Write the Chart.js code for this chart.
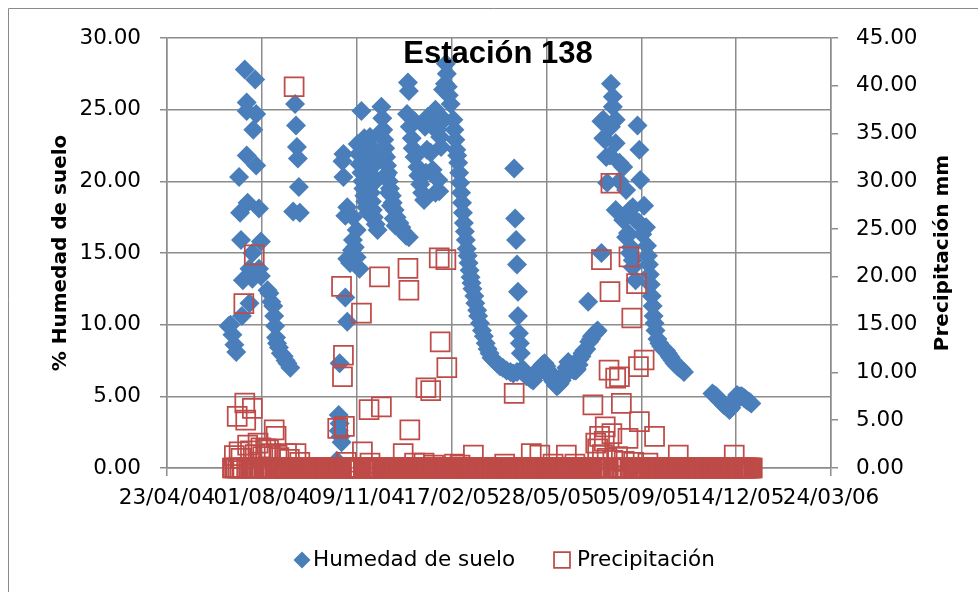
<!DOCTYPE html>
<html>
<head>
<meta charset="utf-8">
<script src="https://cdn.jsdelivr.net/npm/chart.js@4.4.1/dist/chart.umd.min.js"></script>
<style>
  html, body { margin: 0; padding: 0; background: #ffffff; }
  #wrap { width: 978px; height: 592px; }
</style>
</head>
<body>
<div id="wrap"><canvas id="chart" width="978" height="592"></canvas></div>
<script>
// ---- Soil moisture (% Humedad de suelo), left axis ----
const humidityDates = [
  '2004-06-27','2004-06-29','2004-07-01','2004-07-03','2004-07-05','2004-07-08','2004-07-09','2004-07-10','2004-07-11','2004-07-12',
  '2004-07-14','2004-07-16','2004-07-16','2004-07-16','2004-07-17','2004-07-19','2004-07-19','2004-07-22','2004-07-22','2004-07-23',
  '2004-07-25','2004-07-26','2004-07-26','2004-07-29','2004-07-29','2004-07-31','2004-07-31','2004-08-07','2004-08-09','2004-08-11',
  '2004-08-13','2004-08-14','2004-08-15','2004-08-16','2004-08-17','2004-08-19','2004-08-21','2004-08-24','2004-08-26','2004-08-28',
  '2004-08-31','2004-09-03','2004-09-05','2004-09-06','2004-09-07','2004-09-08','2004-09-09','2004-09-10',
  '2004-10-19','2004-10-21','2004-10-21','2004-10-22','2004-10-22','2004-10-23','2004-10-24','2004-10-25','2004-10-26','2004-10-26',
  '2004-10-28','2004-10-28','2004-10-30','2004-10-30','2004-10-30','2004-11-02','2004-11-04','2004-11-05','2004-11-05','2004-11-07',
  '2004-11-09','2004-11-09','2004-11-12','2004-11-14','2004-11-10','2004-11-11','2004-11-12','2004-11-14','2004-11-15','2004-11-16',
  '2004-11-17','2004-11-18','2004-11-19','2004-11-21','2004-11-17','2004-11-19','2004-11-20','2004-11-21','2004-11-22','2004-11-23',
  '2004-11-24','2004-11-25','2004-11-26','2004-11-27','2004-11-29','2004-12-01','2004-11-23','2004-12-05','2004-12-06','2004-12-07',
  '2004-12-08','2004-12-09','2004-12-10','2004-12-11','2004-12-12','2004-12-13','2004-12-14','2004-12-16','2004-12-17','2004-12-19',
  '2004-12-21','2004-12-24','2004-12-26','2004-12-28','2004-12-31','2005-01-03','2005-01-02','2005-01-03','2005-01-01','2005-01-04',
  '2004-12-04','2004-12-07','2004-12-10','2004-12-13','2004-12-15','2004-12-18','2004-12-20','2004-11-26','2004-11-28','2004-11-30',
  '2005-01-06','2005-01-07','2005-01-09','2005-01-09','2005-01-12','2005-01-13','2005-01-15','2005-01-17','2005-01-19','2005-01-20',
  '2005-01-21','2005-01-22','2005-01-23','2005-01-25','2005-01-26','2005-01-28','2005-01-28','2005-01-31','2005-01-31','2005-02-02',
  '2005-02-03','2005-02-04','2005-02-05','2005-02-06','2005-02-08','2005-02-09','2005-02-10','2005-02-11','2005-02-12','2005-02-13',
  '2005-02-14','2005-02-16','2005-02-19','2005-02-20','2005-02-21','2005-02-22','2005-02-23','2005-02-24','2005-02-25','2005-02-26',
  '2005-02-27','2005-02-28','2005-03-01','2005-03-02','2005-03-03','2005-03-04','2005-03-05','2005-03-06','2005-03-07','2005-03-08',
  '2005-03-09','2005-03-10','2005-03-11','2005-03-13','2005-03-14','2005-03-16','2005-03-17','2005-03-19','2005-03-21','2005-03-23',
  '2005-03-25','2005-03-27','2005-03-29','2005-03-31','2005-04-03','2005-04-06','2005-04-09','2005-04-12','2005-04-16','2005-04-20',
  '2005-04-23','2005-04-24','2005-04-25','2005-04-26','2005-04-27','2005-04-28','2005-04-28','2005-04-29','2005-04-30','2005-05-01',
  '2005-04-27','2005-05-01','2005-05-03','2005-05-05','2005-05-07','2005-05-10','2005-05-12','2005-05-14','2005-05-16','2005-05-18',
  '2005-05-20','2005-05-22','2005-05-24','2005-05-26','2005-05-28','2005-05-30','2005-06-01','2005-06-02','2005-06-04','2005-06-05',
  '2005-06-07','2005-06-08','2005-06-10','2005-06-11','2005-06-13','2005-06-14','2005-06-16','2005-06-18','2005-06-20','2005-06-22',
  '2005-06-23','2005-06-25','2005-06-26','2005-06-28','2005-06-29','2005-07-01','2005-07-02','2005-07-04','2005-07-05','2005-07-07',
  '2005-07-09','2005-07-11','2005-07-12','2005-07-14','2005-07-15','2005-07-17','2005-07-18','2005-07-20','2005-07-21','2005-07-25',
  '2005-07-25','2005-07-27','2005-07-27','2005-07-29','2005-07-30','2005-07-31','2005-08-03','2005-08-04','2005-08-04','2005-08-06',
  '2005-08-06','2005-08-09','2005-08-09','2005-08-09','2005-08-13','2005-08-13','2005-08-17','2005-08-17','2005-08-20','2005-08-20',
  '2005-08-22','2005-08-24','2005-08-24','2005-08-25','2005-08-27','2005-08-27','2005-08-27','2005-08-30','2005-08-30','2005-09-03',
  '2005-09-06','2005-09-01','2005-09-03','2005-09-04','2005-09-08','2005-09-10','2005-09-11','2005-09-12','2005-09-13','2005-09-14',
  '2005-09-15','2005-09-16','2005-09-17','2005-09-18','2005-09-19','2005-09-20','2005-09-22','2005-09-24','2005-09-26','2005-09-28',
  '2005-10-01','2005-10-03','2005-10-05','2005-10-06','2005-10-08','2005-10-10','2005-10-12','2005-10-13','2005-10-15','2005-10-17',
  '2005-10-20',
  '2005-11-19','2005-11-21','2005-11-23','2005-11-25','2005-11-27','2005-11-29','2005-12-01','2005-12-03','2005-12-05','2005-12-07',
  '2005-12-09','2005-12-11','2005-12-13','2005-12-15','2005-12-18','2005-12-20','2005-12-22','2005-12-24','2005-12-26','2005-12-28','2005-12-30'
];
const humidityValues = [
  9.9, 10.0, 9.3, 8.6, 8.1, 20.3, 17.8, 15.9, 10.6, 13.1,
  27.8, 25.5, 24.9, 21.8, 18.5, 13.9, 11.5, 15.0, 13.2, 23.6,
  27.1, 24.7, 21.1, 18.1, 13.9, 15.8, 13.4, 12.4, 12.2, 11.6,
  11.3, 10.6, 9.9, 9.1, 8.7, 8.4, 8.0, 7.8, 7.5, 7.3,
  7.0, 17.9, 25.4, 23.9, 22.4, 21.6, 19.6, 17.8,
  0.5, 3.7, 2.6, 3.1, 7.3, 2.2, 1.8, 21.4, 21.9, 20.3,
  11.9, 17.6, 18.2, 10.2, 14.6, 14.3, 15.2, 17.5, 15.9, 15.4,
  16.6, 14.7, 13.9, 24.9, 22.6, 21.9, 21.2, 20.6, 20.0, 19.5,
  19.0, 18.6, 18.2, 17.8, 23.0, 22.4, 21.7, 21.0, 20.4, 19.8,
  19.2, 18.6, 18.0, 17.5, 17.0, 16.6, 23.1, 25.2, 24.4, 23.6,
  22.9, 22.3, 21.7, 21.1, 20.6, 20.0, 19.5, 19.0, 18.5, 18.0,
  17.5, 17.1, 16.8, 16.5, 16.2, 16.1, 26.9, 26.3, 24.7, 23.8,
  23.4, 21.9, 20.4, 19.2, 18.3, 17.4, 16.9, 22.3, 21.2, 20.1,
  23.0, 22.3, 24.2, 21.7, 21.0, 20.4, 19.8, 19.2, 18.7, 23.8,
  20.6, 22.2, 24.5, 24.3, 22.0, 20.8, 23.8, 19.2, 25.0, 23.6,
  20.1, 19.3, 23.1, 22.4, 26.4, 24.3, 26.8, 28.2, 27.5, 26.6,
  26.0, 25.4, 24.3, 23.6, 22.9, 22.2, 21.8, 21.3, 20.6, 19.9,
  19.2, 18.5, 17.8, 17.1, 16.5, 15.9, 15.3, 14.8, 14.3, 13.8,
  13.3, 12.9, 12.5, 12.0, 11.5, 11.0, 10.6, 10.1, 9.6, 9.2,
  8.7, 8.3, 8.0, 7.7, 7.5, 7.3, 7.1, 7.0, 6.8, 6.7,
  6.6, 20.9, 17.4, 15.9, 14.2, 12.3, 10.6, 9.4, 8.7, 8.0,
  6.7, 6.8, 6.9, 6.6, 6.4, 6.3, 6.2, 6.1, 6.4, 6.6,
  6.9, 7.0, 7.2, 7.3, 7.1, 6.8, 6.5, 6.3, 6.1, 6.0,
  5.8, 5.7, 5.8, 5.9, 6.1, 6.3, 6.6, 7.0, 7.4, 7.2,
  7.0, 6.9, 6.8, 6.8, 6.9, 7.2, 7.6, 7.8, 8.0, 8.2,
  8.3, 11.6, 8.8, 9.0, 9.2, 9.3, 9.4, 9.5, 9.6, 15.0,
  24.2, 24.3, 23.0, 22.9, 21.7, 19.9, 21.8, 26.8, 23.8, 25.9,
  25.2, 24.3, 22.65, 18.0, 21.3, 20.0, 21.0, 17.3, 19.4, 16.1,
  16.4, 18.0, 15.0, 15.4, 18.2, 14.5, 14.0, 17.3, 13.1, 17.1,
  16.3, 23.9, 22.2, 20.1, 18.3, 16.8, 15.5, 14.8, 14.2, 13.5,
  12.8, 12.0, 11.3, 10.6, 10.1, 9.6, 9.0, 8.7, 8.5, 8.3,
  8.2, 8.0, 7.8, 7.7, 7.5, 7.3, 7.2, 7.1, 7.0, 6.9,
  6.7,
  5.2, 5.1, 5.0, 4.85, 4.7, 4.55, 4.4, 4.3, 4.2, 4.05,
  4.2, 4.5, 4.8, 5.1, 5.0, 5.0, 4.9, 4.8, 4.7, 4.6, 4.5
];

// ---- Daily rainfall (Precipitación mm), right axis ----
// The gauge record runs daily over this period; days not listed below were dry (0 mm).
const rainRecordFirstDay = '2004-07-01';
const rainRecordLastDay = '2005-12-31';
const rainDates = [
  '2004-07-03','2004-07-06','2004-07-08','2004-07-10','2004-07-13','2004-07-14','2004-07-15','2004-07-17','2004-07-20','2004-07-22',
  '2004-07-24','2004-07-25','2004-07-28','2004-07-31','2004-08-02','2004-08-05','2004-08-08','2004-08-10','2004-08-14','2004-08-16',
  '2004-08-19','2004-08-27','2004-08-30','2004-09-04','2004-09-06','2004-09-10','2004-10-20','2004-10-24','2004-10-25','2004-10-26',
  '2004-10-27','2004-10-29','2004-11-14','2004-11-15','2004-11-22','2004-11-23','2004-12-03','2004-12-05','2004-12-28','2005-01-02',
  '2005-01-03','2005-01-04','2005-01-09','2005-01-19','2005-01-21','2005-01-26','2005-01-29','2005-02-04','2005-02-05','2005-02-11',
  '2005-02-12','2005-02-20','2005-02-26','2005-03-12','2005-04-14','2005-04-24','2005-05-12','2005-05-21','2005-06-04','2005-06-18',
  '2005-06-27','2005-07-16','2005-07-19','2005-07-21','2005-07-23','2005-07-25','2005-07-26','2005-07-28','2005-07-29','2005-07-31',
  '2005-08-02','2005-08-03','2005-08-04','2005-08-05','2005-08-06','2005-08-09','2005-08-11','2005-08-13','2005-08-15','2005-08-18',
  '2005-08-22','2005-08-23','2005-08-26','2005-08-28','2005-08-31','2005-09-02','2005-09-03','2005-09-08','2005-09-12','2005-09-19',
  '2005-10-14','2005-12-12'
];
const rainValues = [
  1.3, 5.4, 1.7, 1.0, 17.2, 6.8, 5.0, 2.4, 1.8, 6.25,
  22.3, 1.4, 2.6, 2.1, 1.2, 2.0, 1.9, 1.5, 4.0, 3.3,
  1.1, 1.5, 0.9, 39.9, 1.5, 0.6, 4.15, 19.0, 9.55, 11.8,
  4.35, 0.6, 16.2, 1.7, 6.1, 0.5, 20.0, 6.4, 1.5, 20.9,
  18.6, 4.0, 0.5, 0.5, 8.4, 8.1, 0.3, 22.0, 13.2, 21.8,
  10.5, 0.4, 0.3, 1.36, 0.4, 7.8, 1.5, 1.36, 0.4, 1.36,
  0.4, 6.6, 2.6, 2.0, 3.3, 21.8, 1.4, 2.8, 4.3, 1.0,
  10.25, 18.45, 29.8, 3.6, 0.8, 9.4, 1.2, 9.55, 6.77, 0.7,
  3.1, 22.1, 15.7, 0.6, 19.3, 10.6, 4.85, 11.3, 0.5, 3.3,
  1.36, 1.36
];

// ---- Axis settings ----
const xAxisFirstDate = '2004-04-23';
const xAxisLastDate = '2006-03-24';
const xAxisStepDays = 100;
const leftAxisMax = 30;
const rightAxisMax = 45;
const axisStep = 5;

const chartTitle = 'Estación 138';
const leftAxisTitle = '% Humedad de suelo';
const rightAxisTitle = 'Precipitación mm';
const humidityLabel = 'Humedad de suelo';
const rainLabel = 'Precipitación';

// ---- helpers ----
const DAY_MS = 86400000;
const toMs = s => { const [y, m, d] = s.split('-').map(Number); return Date.UTC(y, m - 1, d); };
const two = n => String(n).padStart(2, '0');
const fmtDate = v => { const d = new Date(v); return two(d.getUTCDate()) + '/' + two(d.getUTCMonth() + 1) + '/' + two(d.getUTCFullYear() % 100); };

const humidityPoints = humidityDates.map((d, i) => ({ x: toMs(d), y: humidityValues[i] }));
const rainByDay = new Map(rainDates.map((d, i) => [toMs(d), rainValues[i]]));
const rainPoints = [];
for (let t = toMs(rainRecordFirstDay); t <= toMs(rainRecordLastDay); t += DAY_MS) {
  rainPoints.push({ x: t, y: rainByDay.has(t) ? rainByDay.get(t) : 0 });
}

const BLUE = '#4a7ebb';
const RED = '#be4b48';
const GRID = '#8c8c8c';
const TICK_FONT = { family: 'DejaVu Sans', size: 21.5 };

// Frame, title, axis titles and legend
const decorations = {
  id: 'decorations',
  beforeDraw(chart) {
    const { ctx, width, height } = chart;
    ctx.save();
    ctx.fillStyle = '#ffffff';
    ctx.fillRect(0, 0, width, height);
    ctx.strokeStyle = '#8a8a8a';
    ctx.lineWidth = 1;
    ctx.beginPath();
    ctx.moveTo(8.5, height + 2);
    ctx.lineTo(8.5, 8.5);
    ctx.lineTo(width + 2, 8.5);
    ctx.stroke();
    ctx.restore();
  },
  afterDraw(chart) {
    const { ctx, chartArea: a } = chart;
    ctx.save();
    ctx.fillStyle = '#000000';

    ctx.font = 'bold 31px "Liberation Sans"';
    ctx.textAlign = 'center';
    ctx.textBaseline = 'alphabetic';
    ctx.fillText(chartTitle, 498, 63);

    ctx.font = 'bold 20px "DejaVu Sans"';
    ctx.textBaseline = 'middle';
    ctx.save();
    ctx.translate(61, (a.top + a.bottom) / 2);
    ctx.rotate(-Math.PI / 2);
    ctx.fillText(leftAxisTitle, 0, 0);
    ctx.restore();
    ctx.save();
    ctx.translate(943, (a.top + a.bottom) / 2);
    ctx.rotate(-Math.PI / 2);
    ctx.fillText(rightAxisTitle, 0, 0);
    ctx.restore();

    // legend
    const ly = 560;
    ctx.font = '21.5px "DejaVu Sans"';
    ctx.textAlign = 'left';
    ctx.fillStyle = BLUE;
    ctx.strokeStyle = BLUE;
    Chart.helpers.drawPoint(ctx, { pointStyle: 'rectRot', radius: 8.5, borderWidth: 0, rotation: 0 }, 302, ly);
    ctx.fillStyle = 'rgba(0,0,0,0)';
    ctx.strokeStyle = RED;
    ctx.lineWidth = 1.75;
    Chart.helpers.drawPoint(ctx, { pointStyle: 'rect', radius: 11.3, borderWidth: 1.75, rotation: 0 }, 562, ly);
    ctx.fillStyle = '#000000';
    ctx.fillText(humidityLabel, 313, ly);
    ctx.fillText(rainLabel, 577, ly);
    ctx.restore();
  }
};

new Chart(document.getElementById('chart'), {
  type: 'scatter',
  data: {
    datasets: [
      {
        label: humidityLabel,
        data: humidityPoints,
        yAxisID: 'y',
        pointStyle: 'rectRot',
        pointRadius: 10,
        pointHoverRadius: 10,
        backgroundColor: BLUE,
        borderColor: BLUE,
        borderWidth: 0,
        clip: false,
        order: 1
      },
      {
        label: rainLabel,
        data: rainPoints,
        yAxisID: 'y2',
        pointStyle: 'rect',
        pointRadius: 13.4,
        pointHoverRadius: 13.4,
        backgroundColor: 'rgba(0,0,0,0)',
        borderColor: RED,
        borderWidth: 1.75,
        clip: false,
        order: 0
      }
    ]
  },
  options: {
    responsive: false,
    animation: false,
    devicePixelRatio: 1,
    events: [],
    layout: { padding: { top: 38, left: 0, right: 0, bottom: 0 } },
    plugins: { legend: { display: false }, tooltip: { enabled: false }, title: { display: false } },
    scales: {
      x: {
        type: 'linear',
        min: toMs(xAxisFirstDate),
        max: toMs(xAxisLastDate),
        afterFit: s => { s.height = 124; },
        ticks: {
          stepSize: xAxisStepDays * DAY_MS,
          autoSkip: false,
          maxRotation: 0,
          minRotation: 0,
          padding: 10,
          color: '#000000',
          font: TICK_FONT,
          callback: v => fmtDate(v)
        },
        grid: { color: GRID, lineWidth: 1.5, tickLength: 8 },
        border: { color: GRID, width: 1.5 }
      },
      y: {
        position: 'left',
        min: 0,
        max: leftAxisMax,
        afterFit: s => { s.width = 167; },
        ticks: { stepSize: axisStep, padding: 19, color: '#000000', font: TICK_FONT, callback: v => v.toFixed(2) },
        grid: { color: GRID, lineWidth: 1.5, tickLength: 7 },
        border: { color: GRID, width: 1.5 }
      },
      y2: {
        position: 'right',
        min: 0,
        max: rightAxisMax,
        afterFit: s => { s.width = 147; },
        ticks: { stepSize: axisStep, padding: 18, color: '#000000', font: TICK_FONT, callback: v => v.toFixed(2) },
        grid: { drawOnChartArea: false, color: GRID, lineWidth: 1.5, tickLength: 7 },
        border: { color: GRID, width: 1.5 }
      }
    }
  },
  plugins: [decorations]
});
</script>
</body>
</html>
